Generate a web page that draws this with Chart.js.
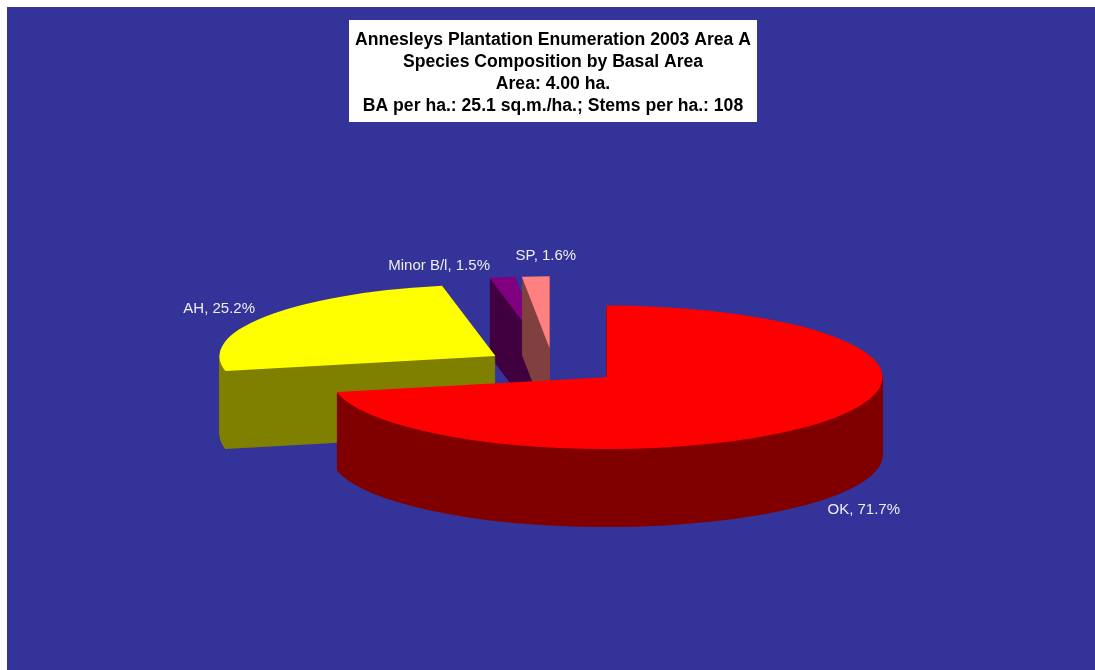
<!DOCTYPE html>
<html>
<head>
<meta charset="utf-8">
<script src="https://cdn.jsdelivr.net/npm/chart.js@4"></script>
<style>
  body { margin: 0; background: #ffffff; }
  canvas { display: block; }
</style>
</head>
<body>
<canvas id="myChart" width="1095" height="670"></canvas>
<script>
const species = ["OK", "AH", "Minor B/l", "SP"];
const shares = [71.7, 25.2, 1.5, 1.6];
const topColors = ["#ff0000", "#ffff00", "#800080", "#ff8080"];
const sideColors = ["#800000", "#808000", "#400040", "#804040"];
const titleLines = [
  "Annesleys Plantation Enumeration 2003 Area A",
  "Species Composition by Basal Area",
  "Area: 4.00 ha.",
  "BA per ha.: 25.1 sq.m./ha.; Stems per ha.: 108",
];

// look of the fake 3d pie
const tilt = 0.26;   // how much the circle is squashed
const depth = 78;    // wall height in px
const drawOrder = [2, 3, 1, 0]; // back slices first
const labelNudge = [[0, 0], [0, 0], [-55, 3], [13, -6]];
const titleFont = "bold 17.6px Arial";

function slicePath(ctx, x, y, rx, ry, a0, a1) {
  ctx.beginPath();
  ctx.moveTo(x, y);
  ctx.ellipse(x, y, rx, ry, 0, a0, a1);
  ctx.closePath();
}

function sliceGeom(a) {
  const mid = (a.startAngle + a.endAngle) / 2;
  const off = a.options.offset || 0;
  return {
    mid: mid,
    x: a.x + Math.cos(mid) * off,
    y: a.y + Math.sin(mid) * off * tilt,
    rx: a.outerRadius,
    ry: a.outerRadius * tilt,
  };
}

const pie3d = {
  id: "pie3d",
  beforeDraw(chart) {
    const ctx = chart.ctx;
    ctx.save();
    ctx.fillStyle = "#ffffff";
    ctx.fillRect(0, 0, chart.width, chart.height);
    ctx.fillStyle = "#333399";
    ctx.fillRect(7, 7, chart.width - 7, chart.height - 7);

    // white box behind the title
    const t = chart.titleBlock;
    ctx.font = titleFont;
    let w = 0;
    titleLines.forEach((l) => {
      w = Math.max(w, ctx.measureText(l).width);
    });
    const cx = (t.left + t.right) / 2;
    ctx.fillStyle = "#ffffff";
    ctx.fillRect(cx - w / 2 - 6, t.top + 20, w + 12, 102);
    ctx.restore();
  },
  beforeDatasetsDraw(chart) {
    const ctx = chart.ctx;
    const meta = chart.getDatasetMeta(0);
    ctx.save();
    drawOrder.forEach((i) => {
      const a = meta.data[i];
      const g = sliceGeom(a);
      ctx.fillStyle = sideColors[i];
      for (let d = depth; d > 0; d--) {
        slicePath(ctx, g.x, g.y + d, g.rx, g.ry, a.startAngle, a.endAngle);
        ctx.fill();
      }
      ctx.fillStyle = topColors[i];
      slicePath(ctx, g.x, g.y, g.rx, g.ry, a.startAngle, a.endAngle);
      ctx.fill();
    });

    ctx.font = "15px Arial";
    ctx.fillStyle = "#eeeeee";
    ctx.textAlign = "center";
    ctx.textBaseline = "middle";
    meta.data.forEach((a, i) => {
      const g = sliceGeom(a);
      const lx = g.x + Math.cos(g.mid) * g.rx * 1.2 + labelNudge[i][0];
      let ly = g.y + Math.sin(g.mid) * g.ry * 1.2 + labelNudge[i][1];
      if (Math.sin(g.mid) > 0) ly += depth;
      ctx.fillText(species[i] + ", " + shares[i].toFixed(1) + "%", lx, ly);
    });
    ctx.restore();
    return false;
  },
};

const data = {
  labels: species,
  datasets: [
    {
      data: shares,
      backgroundColor: topColors,
      offset: 69,
      radius: 276,
      borderWidth: 0,
    },
  ],
};

const config = {
  type: "pie",
  data: data,
  options: {
    responsive: false,
    animation: false,
    events: [],
    layout: {
      padding: { left: 11, right: 0, top: 0, bottom: 65 },
    },
    plugins: {
      legend: { display: false },
      tooltip: { enabled: false },
      title: {
        display: true,
        text: titleLines,
        color: "#000000",
        font: { family: "Arial", size: 17.6, weight: "bold", lineHeight: "22px" },
        padding: { top: 29, bottom: 10 },
      },
    },
  },
  plugins: [pie3d],
};

const myChart = new Chart(document.getElementById("myChart"), config);
</script>
</body>
</html>
